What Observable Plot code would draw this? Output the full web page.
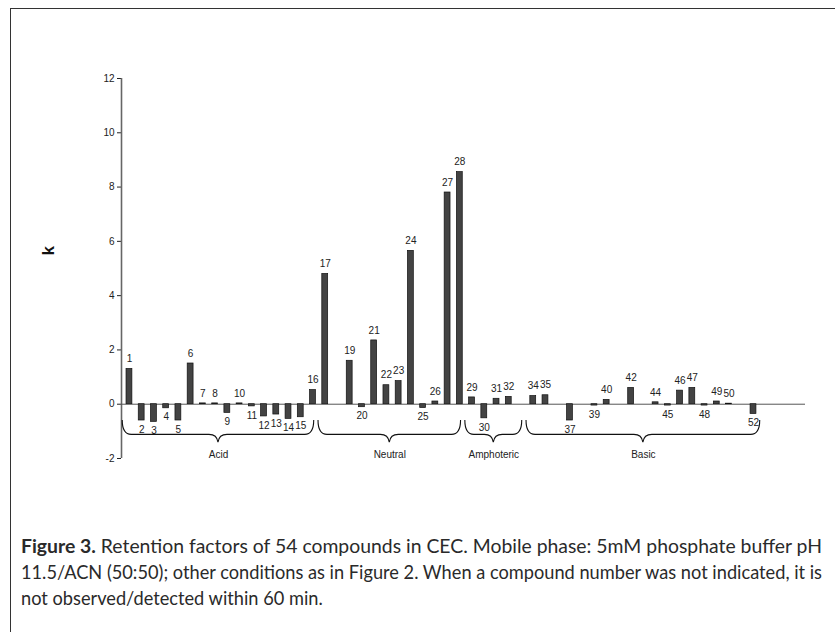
<!DOCTYPE html>
<html>
<head>
<meta charset="utf-8">
<script src="https://cdn.jsdelivr.net/npm/d3@7"></script>
<script src="https://cdn.jsdelivr.net/npm/@observablehq/plot@0.6"></script>
<style>
  html, body { margin: 0; padding: 0; background: #fff; }
  body { width: 835px; height: 632px; position: relative; overflow: hidden; }
  #box { position: absolute; left: 10px; top: 8px; width: 900px; height: 700px;
         border-left: 1px solid #333; border-top: 1px solid #333; }
  #chart { position: absolute; left: 0; top: 0; }
  #caption { position: absolute; left: 21px; top: 533px; width: 801px;
             font-family: Lato, "Open Sans", sans-serif;
             font-size: 19px; line-height: 26px; color: #2a2a2a; }
  #caption .line { white-space: nowrap; transform-origin: 0 50%; width: max-content; }
  #caption b { font-weight: 700; }
</style>
</head>
<body>
<div id="box"></div>
<div id="chart"></div>
<div id="caption">
  <div class="line fit"><b>Figure 3.</b> Retention factors of 54 compounds in CEC. Mobile phase: 5mM phosphate buffer pH</div>
  <div class="line fit">11.5/ACN (50:50); other conditions as in Figure 2. When a compound number was not indicated, it is</div>
  <div class="line">not observed/detected within 60 min.</div>
</div>
<script>
// Compound numbers that were observed, and their retention factor k
const compounds = [1, 2, 3, 4, 5, 6, 7, 8, 9, 10, 11, 12, 13, 14, 15, 16,
  17, 19, 20, 21, 22, 23, 24, 25, 26, 27, 28,
  29, 30, 31, 32,
  34, 35, 37, 39, 40, 42, 44, 45, 46, 47, 48, 49, 50, 52];
const kValues = [1.3, -0.6, -0.65, -0.15, -0.6, 1.5, 0.03, 0.03, -0.32, 0.03, -0.08, -0.45, -0.38, -0.54, -0.48, 0.52,
  4.8, 1.6, -0.11, 2.35, 0.7, 0.85, 5.65, -0.14, 0.1, 7.8, 8.55,
  0.25, -0.52, 0.2, 0.27,
  0.3, 0.33, -0.6, -0.05, 0.16, 0.6, 0.07, -0.05, 0.5, 0.6, -0.05, 0.1, 0.02, -0.36];
const yTicks = [-2, 0, 2, 4, 6, 8, 10, 12];

// Compound classes, by first and last compound number
const groupNames = ["Acid", "Neutral", "Amphoteric", "Basic"];
const groupFirst = [1, 17, 29, 34];
const groupLast = [16, 28, 33, 52];

const data = compounds.map((n, i) => ({n, k: kValues[i]}));
// A brace stops short where the next class starts right after it
const groups = groupNames.map((name, i) => {
  const adjacent = i + 1 < groupFirst.length && groupFirst[i + 1] === groupLast[i] + 1;
  return {name, a: groupFirst[i] - 0.55, b: groupLast[i] + (adjacent ? 0.1 : 0.55)};
});
groups.forEach(g => g.mid = (g.a + g.b) / 2);

const xMin = 0.35, xMax = 56.25;

// Curly braces under each class of compounds
function braces(index, scales) {
  const g = d3.create("svg:g")
    .attr("fill", "none")
    .attr("stroke", "#111")
    .attr("stroke-width", 1.1);
  const yTop = scales.y(-0.6), yMid = scales.y(-1.13), yTip = scales.y(-1.42);
  const r = 9;
  for (const gr of groups) {
    const x1 = scales.x(gr.a), x2 = scales.x(gr.b), cx = (x1 + x2) / 2;
    g.append("path").attr("d",
      `M${x1},${yTop}Q${x1},${yMid} ${x1 + r},${yMid}` +
      `L${cx - r},${yMid}Q${cx - 1},${yMid} ${cx},${yTip}` +
      `Q${cx + 1},${yMid} ${cx + r},${yMid}` +
      `L${x2 - r},${yMid}Q${x2},${yMid} ${x2},${yTop}`);
  }
  return g.node();
}

const chart = Plot.plot({
  width: 835,
  height: 470,
  marginLeft: 121,
  marginRight: 30,
  marginTop: 78,
  marginBottom: 12,
  style: {fontFamily: '"Liberation Sans", Arial, Helvetica, sans-serif', fontSize: "10px", color: "#222", background: "transparent"},
  x: {domain: [xMin, xMax], axis: null},
  y: {domain: [-2, 12]},
  marks: [
    Plot.axisY({ticks: yTicks, tickSize: 4, tickPadding: 3, label: null, fontSize: 10, tickFormat: d => String(d)}),
    Plot.ruleX([xMin], {y1: -2, y2: 12, stroke: "#666", strokeWidth: 1.6}),
    Plot.ruleY([0], {x1: xMin, x2: xMax, stroke: "#555", strokeWidth: 1}),
    Plot.rectY(data, {
      x1: d => d.n - 0.24, x2: d => d.n + 0.24,
      y1: 0, y2: "k",
      fill: "#434343", stroke: "#111", strokeWidth: 0.7
    }),
    Plot.text(data.filter(d => d.k >= 0), {x: "n", y: "k", text: d => String(d.n), dy: -10, fill: "#222"}),
    Plot.text(data.filter(d => d.k < 0), {x: "n", y: "k", text: d => String(d.n), dy: 9, fill: "#222"}),
    braces,
    Plot.text(groups, {x: "mid", y: -1.42, text: "name", dy: 12, fill: "#222"}),
    Plot.text(["k"], {x: xMin, y: 5.65, text: d => d, dx: -73, rotate: -90, fontWeight: "bold", fontSize: 17, fill: "#111"})
  ]
});
document.getElementById("chart").append(chart);

// Caption set in a condensed measure: full lines span the text block exactly
const target = 801;
const lines = Array.from(document.querySelectorAll("#caption .line"));
let lastScale = 1;
for (const el of lines) {
  const w = el.getBoundingClientRect().width;
  if (el.classList.contains("fit")) {
    lastScale = target / w;
  }
  el.style.transform = `scaleX(${lastScale})`;
}
</script>
</body>
</html>
